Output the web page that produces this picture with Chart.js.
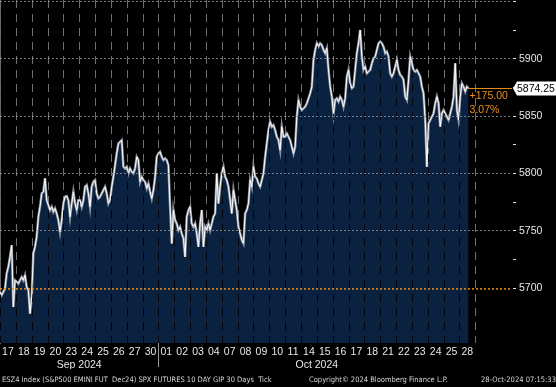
<!DOCTYPE html>
<html>
<head>
<meta charset="utf-8">
<script src="https://cdn.jsdelivr.net/npm/chart.js@4.4.1/dist/chart.umd.min.js"></script>
<style>
  html, body { margin: 0; padding: 0; background: #000; }
  #wrap { position: relative; width: 556px; height: 387px; overflow: hidden; }
  canvas { display: block; }
  .foot {
    position: absolute; top: 375px; line-height: 10px; white-space: pre;
    font: 7.5px 'DejaVu Sans Condensed', sans-serif; color: #d6d6d6;
  }
</style>
</head>
<body>
<div id="wrap">
  <canvas id="chart" width="556" height="387"></canvas>
  <div class="foot" style="left:2px">ESZ4 Index (S&amp;P500 EMINI FUT  Dec24) SPX FUTURES 10 DAY GIP 30 Days  Tick</div>
  <div class="foot" style="left:309px">Copyright© 2024 Bloomberg Finance L.P.</div>
  <div class="foot" style="left:481px">28-Oct-2024 07:15:33</div>
</div>
<script>
const dayLabels = ['17','18','19','20','23','24','25','26','27','30',
      '01','02','03','04','07','08','09','10','11','14','15','16','17','18','21','22','23','24','25','28'];
const monthLabels = ['Sep 2024', 'Oct 2024'];
const monthFirstDay = [0, 10];
const yTicks = [5700, 5750, 5800, 5850, 5900, 5950];
const basePrice = 5699.25;

// ESZ4 ticks left to right
const prices = [
      5696.6, 5693.7, 5696.6, 5699.5, 5712.7, 5718.5, 5727.2, 5737.4, 5683.5, 5706.8,
      5705.4, 5703.9, 5706.8, 5709.7, 5706.8, 5711.2, 5701.0, 5698.1, 5677.7, 5692.3,
      5730.1, 5736.0, 5744.7, 5762.2, 5770.9, 5782.6, 5784.0, 5795.7, 5776.7, 5772.4,
      5768.0, 5770.9, 5766.5, 5769.5, 5765.1, 5759.3, 5749.1, 5759.3, 5773.8, 5779.7,
      5780.3, 5776.7, 5762.2, 5773.8, 5784.0, 5773.8, 5768.0, 5776.7, 5776.7, 5770.9,
      5776.7, 5788.4, 5789.9, 5782.6, 5770.9, 5788.4, 5792.8,
      5794.2, 5782.6, 5778.2, 5779.7, 5782.6, 5785.5, 5788.4, 5782.6, 5773.8, 5776.8,
      5788.4, 5797.1, 5807.3, 5817.5, 5826.3, 5827.7, 5829.2, 5805.9, 5804.4, 5805.9,
      5800.1, 5804.4, 5801.5, 5800.1, 5804.4, 5814.6, 5811.7, 5792.8, 5797.1, 5794.2,
      5792.8, 5787.0, 5791.3, 5784.0, 5778.2, 5785.5, 5797.1, 5814.6, 5817.5, 5819.0,
      5814.6, 5811.7, 5813.2, 5811.7, 5807.3, 5770.9, 5738.9, 5768.0, 5759.3, 5756.4,
      5750.5, 5753.4, 5747.6, 5743.2, 5727.2, 5762.2, 5768.0,
      5770.9, 5756.3, 5753.4, 5756.3, 5747.6, 5735.9, 5756.3, 5768.0, 5735.9, 5753.4,
      5750.5, 5756.3, 5750.5, 5756.3, 5762.2, 5765.1, 5800.1, 5773.8, 5788.4, 5800.1,
      5805.9, 5797.2, 5794.2, 5788.4, 5776.8, 5765.1, 5785.5, 5776.8, 5768.0, 5753.4,
      5747.6, 5741.8, 5738.9, 5765.1, 5768.0, 5773.8, 5794.2, 5788.4, 5805.9, 5797.2,
      5795.7, 5791.3, 5788.4, 5794.2, 5800.1, 5814.6, 5826.3, 5837.9, 5845.2, 5840.9,
      5842.3, 5837.9, 5832.1, 5829.2, 5820.5, 5840.9, 5832.1,
      5832.1, 5835.0, 5832.1, 5829.2, 5823.4, 5817.5, 5823.4, 5849.6, 5864.2, 5858.3,
      5855.4, 5856.9, 5858.3, 5861.3, 5865.6, 5870.0, 5875.8, 5899.1, 5907.9, 5913.7,
      5910.8, 5913.7, 5912.2, 5907.9, 5905.0, 5909.3, 5890.4, 5875.8, 5867.1, 5852.5,
      5864.2, 5865.6, 5862.7, 5867.1, 5864.2, 5858.3, 5865.6, 5884.6, 5890.4, 5878.7,
      5874.4, 5875.8, 5890.4, 5905.0, 5913.7, 5925.3, 5902.1, 5890.4, 5893.3, 5887.5,
      5889.0, 5890.4, 5896.2, 5900.6,
      5902.0, 5907.9, 5913.7, 5915.2, 5913.7, 5910.8, 5905.0, 5906.4, 5902.0, 5887.5,
      5884.6, 5887.5, 5893.3, 5899.1, 5890.4, 5886.0, 5884.6, 5881.7, 5867.1, 5864.2,
      5881.7, 5902.0, 5896.2, 5890.4, 5889.0, 5890.4, 5887.5, 5884.6, 5875.8, 5870.0,
      5846.7, 5805.9, 5843.8, 5846.7, 5849.6, 5852.5, 5861.3, 5867.1, 5861.3, 5840.9,
      5852.5, 5855.4, 5852.5, 5849.6, 5846.7, 5852.5, 5858.3, 5867.1, 5896.2, 5855.4,
      5846.7, 5867.1, 5878.7, 5875.8, 5871.5, 5875.8, 5874.25
];

const FONT = "'Liberation Sans', Arial, sans-serif";
const ORANGE = '#e8901c';
const NAVY = '#0a2140';
const ptsPerDay = 9.5;
const XMAX = 32.32;

const lastPrice = prices[prices.length - 1];
const lastX = (prices.length - 1) / ptsPerDay;
const change = lastPrice - basePrice;
const pct = change / basePrice * 100;

const series = prices.map((v, i) => ({ x: i / ptsPerDay, y: v }));

Chart.defaults.font.family = FONT;
Chart.defaults.font.size = 10.5;
Chart.defaults.color = '#e6e6e6';

function noPad(scale) {
      scale.paddingLeft = 0;
      scale.paddingRight = 0;
      scale.paddingTop = 0;
      scale.paddingBottom = 0;
}

function daySeparators(chart, color) {
      const ctx = chart.ctx;
      const area = chart.chartArea;
      const xs = chart.scales.x;
      ctx.strokeStyle = color;
      ctx.lineWidth = 1;
      ctx.setLineDash([8, 6]);
      for (let d = 0; d <= dayLabels.length; d++) {
            const x = Math.round(xs.getPixelForValue(d)) + 0.5;
            ctx.beginPath();
            ctx.moveTo(x, area.top);
            ctx.lineTo(x, area.bottom);
            ctx.stroke();
      }
}

// grey day separators, dark where they cross the filled area
const dayGrid = {
      id: 'dayGrid',
      beforeDatasetsDraw(chart) {
            chart.ctx.save();
            daySeparators(chart, '#6e6e6e');
            chart.ctx.restore();
      },
      afterDatasetDraw(chart, args) {
            if (args.index !== 0) return;
            const ctx = chart.ctx;
            const area = chart.chartArea;
            const pts = args.meta.data;
            ctx.save();
            ctx.beginPath();
            ctx.moveTo(pts[0].x, area.bottom);
            pts.forEach(p => ctx.lineTo(p.x, p.y + 1.5));
            ctx.lineTo(pts[pts.length - 1].x, area.bottom);
            ctx.closePath();
            ctx.clip();
            daySeparators(chart, 'rgba(0,0,0,0.85)');
            ctx.restore();
      }
};

const lastTag = {
      id: 'lastTag',
      afterDraw(chart) {
            const ctx = chart.ctx;
            const area = chart.chartArea;
            const y = chart.scales.y.getPixelForValue(lastPrice);
            const xLast = chart.scales.x.getPixelForValue(lastX);
            ctx.save();
            ctx.fillStyle = '#ffffff';
            ctx.beginPath();
            ctx.moveTo(area.right + 1, y);
            ctx.lineTo(area.right + 5, y - 7);
            ctx.lineTo(chart.width, y - 7);
            ctx.lineTo(chart.width, y + 7);
            ctx.lineTo(area.right + 5, y + 7);
            ctx.closePath();
            ctx.fill();
            ctx.font = '10.5px ' + FONT;
            ctx.textBaseline = 'middle';
            ctx.fillStyle = '#000';
            ctx.fillText(lastPrice.toFixed(2), area.right + 5, y + 1);
            ctx.fillStyle = ORANGE;
            ctx.fillText('+' + change.toFixed(2), xLast + 1, y + 8);
            ctx.fillText(pct.toFixed(2) + '%', xLast + 1, y + 22);

            // month divider under the axis
            const xm = Math.round(chart.scales.x.getPixelForValue(monthFirstDay[1])) + 0.5;
            ctx.strokeStyle = '#9a9a9a';
            ctx.lineWidth = 1;
            ctx.beginPath();
            ctx.moveTo(xm, area.bottom);
            ctx.lineTo(xm, area.bottom + 24);
            ctx.stroke();
            ctx.restore();
      }
};

new Chart(document.getElementById('chart'), {
      type: 'line',
      data: {
            datasets: [
                  {
                        data: series, borderColor: 'rgba(150,156,168,0.9)', borderWidth: 2.5,
                        backgroundColor: NAVY, fill: 'start', pointRadius: 0, order: 3
                  },
                  {
                        data: series, borderColor: '#ffffff', borderWidth: 1,
                        pointRadius: 0, fill: false, order: 2
                  },
                  {
                        data: [{ x: 0, y: basePrice }, { x: XMAX, y: basePrice }],
                        borderColor: ORANGE, borderWidth: 1.5, borderDash: [2, 2],
                        pointRadius: 0, fill: false, order: 1
                  },
                  {
                        data: [{ x: lastX, y: lastPrice }, { x: XMAX, y: lastPrice }],
                        borderColor: ORANGE, borderWidth: 1, pointRadius: 0, fill: false, order: 1
                  }
            ]
      },
      options: {
            responsive: false,
            animation: false,
            layout: { padding: { left: 0, right: 0, top: 0, bottom: 18 } },
            plugins: { legend: { display: false }, tooltip: { enabled: false } },
            scales: {
                  x: {
                        type: 'linear', min: 0, max: XMAX, display: false
                  },
                  xDays: {
                        type: 'linear', position: 'bottom', min: 0, max: XMAX, weight: 1,
                        afterBuildTicks: s => { s.ticks = dayLabels.map((l, d) => ({ value: d + 0.5 })); },
                        afterFit: s => { s.height = 13; noPad(s); },
                        grid: { display: false, drawTicks: false },
                        border: { display: false },
                        ticks: {
                              autoSkip: false, maxRotation: 0, padding: 3, color: '#e6e6e6',
                              callback: (v, i) => dayLabels[i]
                        }
                  },
                  xMonths: {
                        type: 'linear', position: 'bottom', min: 0, max: XMAX, weight: 2,
                        afterBuildTicks: s => {
                              s.ticks = monthFirstDay.map((d, i) => {
                                    const end = i + 1 < monthFirstDay.length ? monthFirstDay[i + 1] : dayLabels.length;
                                    return { value: (d + end) / 2 };
                              });
                        },
                        afterFit: s => { s.height = 13; noPad(s); },
                        grid: { display: false, drawTicks: false },
                        border: { display: false },
                        ticks: {
                              autoSkip: false, maxRotation: 0, padding: 3, color: '#e6e6e6',
                              callback: (v, i) => monthLabels[i]
                        }
                  },
                  y: {
                        position: 'right', min: 5652, max: 5951.5,
                        afterBuildTicks: s => {
                              s.ticks = [];
                              yTicks.forEach((t, i) => {
                                    s.ticks.push({ value: t });
                                    if (i < yTicks.length - 1) s.ticks.push({ value: (t + yTicks[i + 1]) / 2 });
                              });
                        },
                        afterFit: s => { s.width = 44; noPad(s); },
                        border: { display: true, color: '#c8c8c8', width: 1, dash: [2, 2] },
                        grid: {
                              z: 1,
                              color: c => (c.tick && c.tick.value % 50 === 0 && Math.abs(c.tick.value - basePrice) > 5)
                                    ? 'rgba(150,150,150,0.8)' : 'rgba(0,0,0,0)',
                              tickColor: '#e0e0e0', tickLength: 4
                        },
                        ticks: {
                              padding: 3, color: '#e6e6e6',
                              callback: v => (v % 50 === 0 && v !== 5950) ? String(v) : ''
                        }
                  }
            }
      },
      plugins: [dayGrid, lastTag]
});
</script>
</body>
</html>
